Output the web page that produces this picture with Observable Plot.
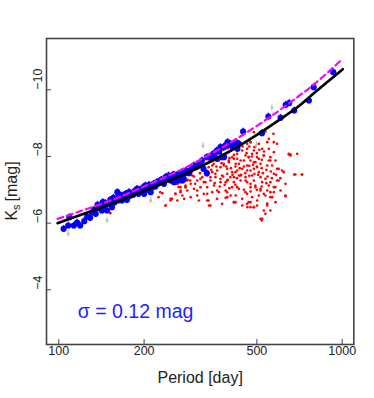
<!DOCTYPE html>
<html><head><meta charset="utf-8">
<script src="https://cdn.jsdelivr.net/npm/d3@7"></script>
<script src="https://cdn.jsdelivr.net/npm/@observablehq/plot@0.6"></script>
<style>
html,body{margin:0;padding:0;background:#fff;}
#chart{width:374px;height:398px;}
</style></head><body><div id="chart"></div>
<script>
// ---- data ----
const xTicks = [100, 200, 500, 1000];
const yTicks = [-10, -8, -6, -4];

const bluePeriod = [104,108,109,113,119,123,129,135,137,142,143,148,154,159,161,163,167,167,172,174,179,184,189,191,197,200,202,207,211,216,222,231,238,244,251,255,258,265,265,265,273,276,281,281,291,299,311,320,324,333,333,351,361,361,372,376,383,383,387,394,404,414,421,427,432,447,521,549,606,632,650,677,763,793,930,
  140,146,152,156,165,172,177,181,186,194,199,205,211,219,225,228,235,241,248,255,262,269,276,284,273,
  116,126,131,133,138,145,150,157,162,170,176,183,188,193,204,208,214,221,230,236,246,253,260,270,278,288,295,305,315,340,345,355,368,398,410];
const blueMag = [-5.83,-5.93,-6.18,-5.93,-5.93,-6.06,-6.16,-6.28,-6.55,-6.38,-6.63,-6.38,-6.48,-6.68,-6.93,-6.78,-6.83,-6.68,-6.88,-6.70,-6.83,-6.93,-7.03,-6.88,-7.03,-6.88,-7.13,-7.08,-6.93,-7.18,-7.23,-7.23,-7.38,-7.43,-7.33,-7.23,-7.43,-7.48,-7.28,-7.38,-7.53,-7.33,-7.58,-7.53,-7.58,-7.73,-7.73,-7.88,-7.63,-7.98,-7.50,-8.08,-8.18,-7.93,-8.28,-7.98,-7.98,-8.28,-8.33,-8.43,-8.38,-8.38,-8.43,-8.23,-8.38,-8.75,-8.70,-9.20,-9.16,-9.55,-9.60,-9.38,-9.68,-10.08,-10.53,
  -6.53,-6.60,-6.70,-6.76,-6.83,-6.76,-6.93,-6.88,-6.98,-6.96,-7.08,-7.03,-7.13,-7.10,-7.20,-7.28,-7.18,-7.33,-7.28,-7.38,-7.33,-7.43,-7.48,-7.53,-7.28,
  -6.02,-6.20,-6.32,-6.40,-6.45,-6.50,-6.58,-6.62,-6.68,-6.75,-6.80,-6.85,-6.92,-7.00,-7.00,-7.15,-7.08,-7.15,-7.30,-7.25,-7.35,-7.45,-7.35,-7.35,-7.50,-7.50,-7.65,-7.68,-7.80,-8.00,-7.95,-8.10,-8.15,-8.35,-8.30];

const redPeriod = [475,508,544,551,648,694,462,444,426,409,456,481,501,529,558,582,475,494,515,544,462,438,421,398,382,372,362,348,334,321,393,409,426,444,462,488,508,481,456,432,415,393,377,357,343,325,308,292,280,269,262,284,300,316,334,353,372,393,415,438,462,488,515,536,558,589,622,606,574,544,515,494,475,456,432,409,388,367,348,325,308,292,277,262,334,362,388,421,444,481,508,529,558,631,475,501,544,558,522,339,312,475,468,522,574,589,488,501,522,551,574,597,404,377,415,444,468,251,269,280,296,348,362,382,426,404,462,438,
  648,657,677,722,631,574,572,536,551,488,475,558,581,566,544,488,475,420,
  228,238,248,258,265,273,280,284,255,152,
  520,463,343,225,
  325,338,352,367,382,398,415,432,450,468,488,508,529,551,566,589,614,657,684,721,631,597,574,558,536,515,494,475,456,438,420,403,388,372,357,343,329,316,303,291,280,269,258,248,238,232,262,276,308,334,362,393,426,462,501,543,582,488,462,529,536,515,415,393,338,
  340,350,365,380,395,410,430,445,470,490,510,530,345,360,375,390,405,420,435,450,470,485,500,520,540,560,380,395,410,425,440,455,470,490,505,525,545,355,370,385,400,420,450,475,500,520,540,565,585,605,300,315,330,285,460,480,500,520,400,415];
const redMag = [-8.43,-8.38,-8.43,-8.23,-8.08,-8.08,-8.23,-8.18,-8.08,-7.98,-8.03,-8.08,-7.98,-8.03,-7.98,-7.88,-7.88,-7.83,-7.78,-7.73,-7.73,-7.88,-7.78,-7.88,-7.78,-7.68,-7.58,-7.53,-7.43,-7.38,-7.63,-7.53,-7.58,-7.63,-7.58,-7.63,-7.53,-7.43,-7.38,-7.43,-7.38,-7.48,-7.43,-7.38,-7.28,-7.23,-7.28,-7.18,-7.13,-7.08,-7.18,-6.98,-7.03,-7.08,-7.08,-7.13,-7.23,-7.28,-7.23,-7.28,-7.23,-7.28,-7.38,-7.33,-7.23,-7.28,-7.53,-6.98,-6.93,-6.98,-7.03,-7.13,-7.08,-6.93,-7.03,-7.08,-6.98,-6.93,-6.93,-6.88,-6.83,-6.78,-6.73,-6.68,-6.68,-6.73,-6.76,-6.83,-6.73,-6.78,-6.83,-6.88,-6.78,-6.83,-6.48,-6.53,-6.58,-6.38,-6.13,-6.53,-6.68,-7.58,-7.98,-8.23,-8.13,-8.38,-8.18,-7.68,-7.23,-7.13,-7.48,-7.63,-6.83,-6.58,-6.63,-6.53,-6.63,-6.73,-6.93,-7.28,-7.43,-7.73,-7.88,-7.98,-7.93,-8.18,-8.38,-8.38,
  -8.06,-8.06,-7.46,-7.46,-6.81,-8.43,-8.68,-8.75,-8.53,-8.73,-8.43,-7.88,-7.08,-6.78,-6.53,-6.48,-6.63,-6.63,
  -6.93,-6.53,-6.68,-6.88,-7.08,-6.83,-7.08,-7.28,-7.53,-6.30,
  -6.08,-6.48,-6.53,-6.78,
  -7.58,-7.68,-7.78,-7.88,-7.73,-7.83,-7.93,-7.78,-7.88,-7.98,-7.83,-7.93,-8.03,-7.88,-7.73,-7.63,-7.58,-8.03,-7.46,-7.46,-7.18,-7.28,-7.08,-6.93,-6.83,-6.98,-7.08,-7.18,-7.28,-7.43,-7.53,-7.38,-7.23,-7.33,-7.48,-7.38,-7.23,-7.33,-7.18,-7.28,-7.08,-6.98,-6.88,-6.73,-6.53,-6.90,-7.18,-7.38,-6.98,-6.88,-6.98,-6.93,-7.08,-6.88,-6.68,-6.58,-6.63,-6.48,-6.58,-6.38,-6.28,-6.13,-6.63,-6.78,-6.68,
  -7.90,-8.00,-8.10,-8.20,-8.25,-8.30,-8.35,-8.30,-8.30,-8.28,-8.20,-8.15,-7.60,-7.70,-7.80,-7.70,-7.65,-7.70,-7.65,-7.70,-7.72,-7.75,-7.70,-7.65,-7.60,-7.55,-7.40,-7.30,-7.45,-7.35,-7.45,-7.50,-7.42,-7.48,-7.45,-7.50,-7.40,-7.20,-7.10,-7.15,-7.05,-7.15,-7.00,-6.95,-7.00,-7.10,-7.20,-7.35,-7.45,-7.35,-7.40,-7.50,-7.45,-7.30,-8.10,-8.00,-8.10,-7.90,-7.95,-8.05];

const grayPeriod = [108, 148, 211, 323, 498, 565];
const grayMag = [-5.68, -6.08, -6.68, -8.32, -8.35, -9.46];

const fitPeriod = [99, 150, 200, 250, 300, 400, 500, 600, 700, 800, 1005];
const fitMag = [-6.0, -6.55, -6.97, -7.3, -7.6, -8.15, -8.65, -9.1, -9.5, -9.92, -10.62];

const dashPeriod = [99, 150, 200, 250, 300, 400, 500, 600, 700, 800, 1005];
const dashMag = [-6.13, -6.66, -7.1, -7.47, -7.8, -8.4, -8.92, -9.38, -9.8, -10.18, -10.93];

const errHalf = 0.1;
const annotation = [{label: "σ = 0.12 mag", period: 116.7, mag: -3.16}];
const xTitle = ["Period [day]"];

// ---- tables ----
const zip = (ps, ms) => ps.map((p, i) => ({period: p, mag: ms[i]}));
const blue = zip(bluePeriod, blueMag);
const red = zip(redPeriod, redMag);
const gray = zip(grayPeriod, grayMag);
const fit = zip(fitPeriod, fitMag);
const dash = zip(dashPeriod, dashMag);

const font = "'Liberation Sans', Arial, Helvetica, sans-serif";
const minus = d => String(d).replace("-", "\u2212");

const svg = Plot.plot({
  width: 374, height: 398,
  marginLeft: 46, marginRight: 20.7, marginTop: 38, marginBottom: 54,
  x: {type: "log", domain: [90.5, 1099]},
  y: {domain: [-2.36, -11.54]},
  style: {fontFamily: font, background: "white", color: "#222"},
  marks: [
    Plot.dot(red, {x: "period", y: "mag", r: 1.3, fill: "#ff0000", stroke: null}),
    Plot.ruleX(gray, {x: "period", y1: d => d.mag - errHalf, y2: d => d.mag + errHalf, stroke: "#bdbdbd", strokeWidth: 1}),
    Plot.dot(gray, {x: "period", y: "mag", r: 1.4, fill: "#bdbdbd", stroke: null}),
    Plot.ruleX(blue, {x: "period", y1: d => d.mag - errHalf, y2: d => d.mag + errHalf, stroke: "#0000ff", strokeWidth: 1.4}),
    Plot.dot(blue, {x: "period", y: "mag", r: 3.1, fill: "#0000ff", stroke: null}),
    Plot.line(fit, {x: "period", y: "mag", stroke: "#000", strokeWidth: 2.7, curve: "catmull-rom"}),
    Plot.line(dash, {x: "period", y: "mag", stroke: "#ff00ff", strokeWidth: 2.2, strokeDasharray: "6,4", curve: "catmull-rom"}),
    Plot.frame({stroke: "#444", strokeWidth: 1.6}),
    Plot.axisX(xTicks, {tickSize: 5, dy: -5, tickFormat: () => "", stroke: "#444", label: null}),
    Plot.text(xTicks, {x: d => d, frameAnchor: "bottom", dy: 10, text: d => String(d), fontSize: 12.5, fill: "#222"}),
    Plot.axisY(yTicks, {tickSize: 5, dx: 5, tickFormat: () => "", stroke: "#444", label: null}),
    Plot.text(yTicks, {y: d => d, frameAnchor: "left", dx: -8.5, rotate: -90, text: minus, fontSize: 12.5, fill: "#222"}),
    Plot.text(xTitle, {text: d => d, frameAnchor: "bottom", dy: 38, lineAnchor: "bottom", fontSize: 16, fill: "#222"}),
    Plot.text(annotation, {x: "period", y: "mag", text: "label", textAnchor: "start", lineAnchor: "bottom", fontSize: 19.5, fill: "#1f1fff"})
  ]
});

const s = d3.select(svg);
const yl = s.append("text")
  .attr("transform", "translate(16.5,191) rotate(-90)")
  .attr("text-anchor", "middle")
  .attr("font-family", font)
  .attr("font-size", 16)
  .attr("fill", "#222");
yl.append("tspan").text("K");
yl.append("tspan").attr("font-size", 11).attr("dy", 3).text("s");
yl.append("tspan").attr("dy", -3).attr("dx", 3).text("[mag]");

document.getElementById("chart").appendChild(svg);
</script>
</body></html>
